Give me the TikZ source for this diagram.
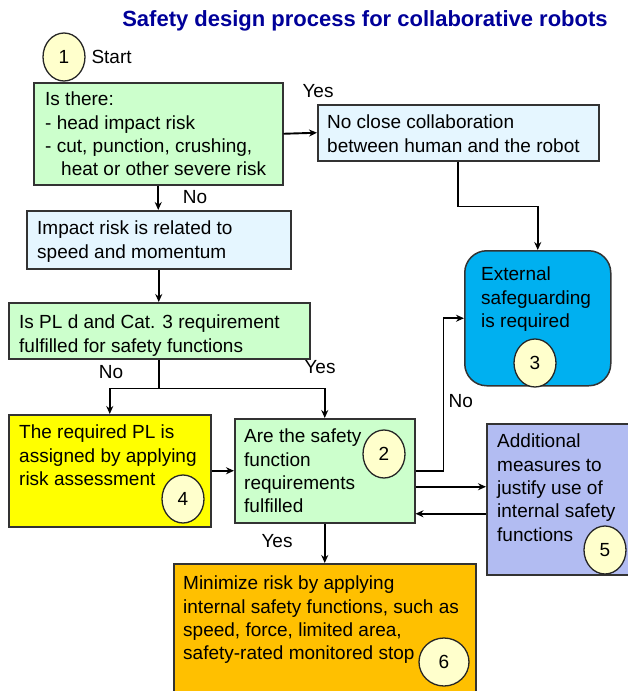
\documentclass[tikz,border=0pt]{standalone}
\usepackage{fontspec}
\setmainfont{Liberation Sans}
\usetikzlibrary{shapes.geometric, arrows.meta, positioning, calc}
\definecolor{sdgreen}{RGB}{204, 255, 204}
\definecolor{sdpale}{RGB}{229, 246, 255}
\definecolor{sdcyan}{RGB}{0, 176, 240}
\definecolor{sdyellow}{RGB}{255, 255, 0}
\definecolor{sdlilac}{RGB}{178, 188, 242}
\definecolor{sdorange}{RGB}{255, 192, 0}
\definecolor{sdcircle}{RGB}{255, 255, 204}
\definecolor{sdtitle}{RGB}{0, 0, 153}

\begin{document}
\begin{tikzpicture}[
    x=1pt, y=1pt,
    box/.style={
        draw=black!80,
        line width=1.5pt,
        fill=#1,
        anchor=north west,
        inner sep=0pt
    },
    txt/.style={anchor=north west, inner sep=0pt, align=left, font=\fontsize{19}{23.3}\selectfont},
    num/.style={
        ellipse,
        draw=black!85,
        line width=1.3pt,
        fill=sdcircle,
        minimum width=42pt,
        minimum height=48pt,
        inner sep=0pt,
        font=\fontsize{19}{23}\selectfont
    },
    arrow/.style={-{Stealth[length=8pt, width=7pt]}, line width=1.9pt},
    link/.style={line width=1.9pt},
    tag/.style={anchor=base, font=\fontsize{19}{23}\selectfont}
]
\useasboundingbox (0,0) rectangle (627,-691);

% Title
\node[anchor=base, font=\fontsize{22}{26}\selectfont\bfseries, text=sdtitle] (title) at (365,-26) {Safety design process for collaborative robots};

% Boxes
\node[box=sdgreen, minimum width=249pt, minimum height=102pt] (check) at (33,-82) {};
\node[box=sdpale, minimum width=281pt, minimum height=56pt] (noclose) at (317,-104) {};
\node[box=sdcyan, minimum width=146pt, minimum height=135pt, rounded corners=22pt] (external) at (464,-250) {};
\node[box=sdpale, minimum width=264pt, minimum height=58pt] (impact) at (26,-210) {};
\node[box=sdgreen, minimum width=301pt, minimum height=56pt] (plcheck) at (8,-302) {};
\node[box=sdyellow, minimum width=202pt, minimum height=112pt] (reqpl) at (8,-414) {};
\node[box=sdgreen, minimum width=180pt, minimum height=104pt] (fulfilled) at (234,-418) {};
\node[box=sdlilac, minimum width=150pt, minimum height=151pt] (additional) at (486,-423) {};
\node[box=sdorange, minimum width=302pt, minimum height=140pt] (minimize) at (173,-563) {};

% Box texts
\node[txt] (check-t) at (45,-92) {Is there:\\- head impact risk\\- cut, punction, crushing,\\\hspace*{16pt}heat or other severe risk};
\node[txt] (noclose-t) at (327,-115) {No close collaboration\\between human and the robot};
\node[txt] (external-t) at (481,-267) {External\\safeguarding\\is required};
\node[txt] (impact-t) at (37,-221) {Impact risk is related to\\speed and momentum};
\node[txt] (plcheck-t) at (19,-315) {Is PL d and Cat. 3 requirement\\fulfilled for safety functions};
\node[txt] (reqpl-t) at (19,-425) {The required PL is\\assigned by applying\\risk assessment};
\node[txt] (fulfilled-t) at (244,-429) {Are the safety\\function\\requirements\\fulfilled};
\node[txt] (additional-t) at (497,-434) {Additional\\measures to\\justify use of\\internal safety\\functions};
\node[txt] (minimize-t) at (183,-576) {Minimize risk by applying\\internal safety functions, such as\\speed, force, limited area,\\safety-rated monitored stop};

% Numbered circles
\node[num] (c1) at (64,-57) {1};
\node[num] (c2) at (384,-454) {2};
\node[num] (c3) at (535,-363) {3};
\node[num] (c4) at (183,-499) {4};
\node[num] (c5) at (605,-550) {5};
\node[num, minimum width=50pt] (c6) at (444,-662) {6};
\node[tag, anchor=base west] (start) at (88,-63) {Start};

% Connectors
\coordinate (split) at ([yshift=-29pt]plcheck.south);
\coordinate (gh) at ([yshift=-16pt]fulfilled.east);
\coordinate (hg) at ([yshift=-43pt]fulfilled.east);

\draw[arrow] (check.east) -- (noclose.west);
\draw[arrow] (check.south) -- (check.south |- impact.north);
\draw[arrow] (noclose.south) -- ++(0,-45) -| (external.north);
\draw[arrow] (impact.south) -- (impact.south |- plcheck.north);
\draw[link] (plcheck.south) -- (split);
\draw[arrow] (split) -| (reqpl.north);
\draw[arrow] (split) -| (fulfilled.north);
\draw[arrow] (reqpl.east) -- (reqpl.east -| fulfilled.west);
\draw[arrow] (fulfilled.east) -- ++(28,0) |- (external.west);
\draw[arrow] (gh) -- (gh -| additional.west);
\draw[arrow] (hg -| additional.west) -- (hg);
\draw[arrow] (fulfilled.south) -- (minimize.north);

% Yes / No labels
\node[tag] (yes1) at (318,-97) {Yes};
\node[tag] (no1) at (195,-203) {No};
\node[tag] (no2) at (111,-378) {No};
\node[tag] (yes2) at (320,-373) {Yes};
\node[tag, anchor=base west] (no3) at (445,-407) {No};
\node[tag] (yes3) at (277,-547) {Yes};

\end{tikzpicture}
\end{document}
